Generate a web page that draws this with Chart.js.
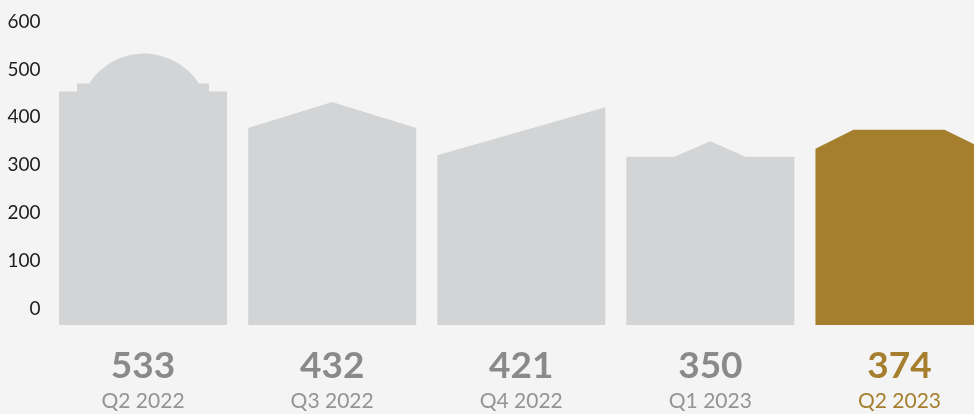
<!DOCTYPE html>
<html>
<head>
<meta charset="utf-8">
<script src="https://cdn.jsdelivr.net/npm/chart.js@4"></script>
<style>
  html, body { margin: 0; padding: 0; background: #f3f4f3; overflow: hidden; }
  #wrap { width: 974px; height: 414px; overflow: hidden; }
  canvas { display: block; }
</style>
</head>
<body>
<div id="wrap"><canvas id="chart" width="1005" height="414"></canvas></div>
<script>
const quarters = ["Q2 2022", "Q3 2022", "Q4 2022", "Q1 2023", "Q2 2023"];
const values = [533, 432, 421, 350, 374];
const yTicks = [0, 100, 200, 300, 400, 500, 600];

const grey = "#d3d4d6";
const gold = "#a67f2e";
const barColors = [grey, grey, grey, grey, gold];
const valueColors = ["#8a8a8c", "#8a8a8c", "#8a8a8c", "#8a8a8c", gold];
const labelColors = ["#939496", "#939496", "#939496", "#939496", gold];

// roof outlines: [fraction of bar width, px below the bar top]; "arc" = dome up to the top
const roofs = [
  [[0, 38], [0.107, 38], [0.107, 30], [0.179, 30], ["arc", 0.833, 30], [0.893, 30], [0.893, 38], [1, 38]],
  [[0, 26], [0.5, 0], [1, 26]],
  [[0, 48], [1, 0]],
  [[0, 15.5], [0.286, 15.5], [0.5, 0], [0.708, 15.5], [1, 15.5]],
  [[0, 19], [0.226, 0], [0.768, 0], [1, 19]]
];

function drawBuilding(ctx, bar, roof) {
  const w = bar.width, left = bar.x - w / 2, top = bar.y, base = bar.base;
  let px = left, py = base;
  ctx.beginPath();
  ctx.moveTo(px, py);
  roof.forEach(p => {
    if (p[0] === "arc") {
      const x1 = left + p[1] * w, y1 = top + p[2];
      const half = (x1 - px) / 2, sag = py - top;
      const r = (half * half + sag * sag) / (2 * sag);
      const cx = px + half, cy = top + r;
      ctx.arc(cx, cy, r, Math.atan2(py - cy, px - cx), Math.atan2(y1 - cy, x1 - cx));
      px = x1; py = y1;
    } else {
      px = left + p[0] * w; py = top + p[1];
      ctx.lineTo(px, py);
    }
  });
  ctx.lineTo(left + w, base);
  ctx.closePath();
  ctx.fill();
}

const buildings = {
  id: "buildings",
  afterDatasetsDraw(chart) {
    const ctx = chart.ctx;
    const meta = chart.getDatasetMeta(0);
    ctx.save();
    meta.data.forEach((bar, i) => {
      ctx.fillStyle = barColors[i];
      drawBuilding(ctx, bar, roofs[i]);
      ctx.fillStyle = valueColors[i];
      ctx.font = "bold 37px Lato";
      ctx.textAlign = "center";
      ctx.textBaseline = "middle";
      ctx.fillText(String(values[i]), bar.x, 366);
    });
    ctx.restore();
  }
};

new Chart(document.getElementById("chart"), {
  type: "bar",
  data: {
    labels: quarters,
    datasets: [{
      data: values,
      base: -33.4,
      backgroundColor: "rgba(0,0,0,0)",
      barThickness: 168
    }]
  },
  options: {
    responsive: false,
    animation: false,
    layout: { padding: 0 },
    plugins: { legend: { display: false }, tooltip: { enabled: false } },
    scales: {
      x: {
        grid: { display: false, drawTicks: false },
        border: { display: false },
        ticks: {
          padding: 64,
          color: ctx => labelColors[ctx.index],
          font: { family: "Lato", size: 21 }
        },
        afterFit: s => { s.height = 89; }
      },
      y: {
        min: -33.4,
        max: 644.9,
        grid: { display: false, drawTicks: false },
        border: { display: false },
        ticks: {
          padding: 8,
          color: "#1e1e1e",
          font: { family: "Lato", size: 19 }
        },
        afterBuildTicks: s => { s.ticks = yTicks.map(v => ({ value: v })); },
        afterFit: s => { s.width = 48.5; s.paddingTop = 0; s.paddingBottom = 0; }
      }
    }
  },
  plugins: [buildings]
});
</script>
</body>
</html>
